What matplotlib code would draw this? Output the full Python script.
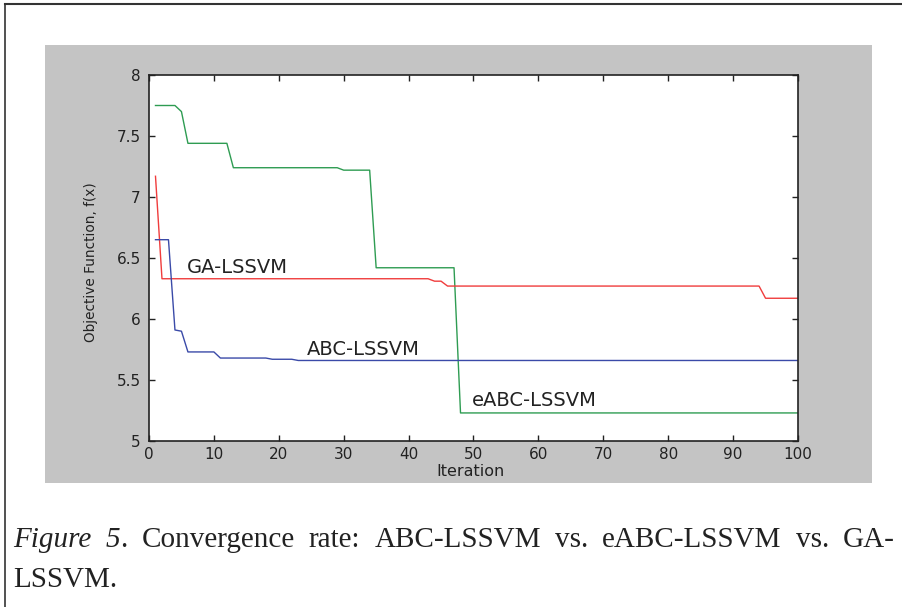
import numpy as np
import matplotlib

matplotlib.use("Agg")
import matplotlib.pyplot as plt
from matplotlib.patches import Rectangle
from matplotlib.lines import Line2D

# vertices (iteration, objective value)
ga_iter = [1, 2, 43, 44, 45, 46, 94, 95, 100]
ga_val = [7.17, 6.33, 6.33, 6.31, 6.31, 6.27, 6.27, 6.17, 6.17]

abc_iter = [1, 3, 4, 5, 6, 10, 11, 18, 19, 22, 23, 100]
abc_val = [6.65, 6.65, 5.91, 5.90, 5.73, 5.73, 5.68, 5.68, 5.67, 5.67, 5.66, 5.66]

eabc_iter = [1, 4, 5, 6, 12, 13, 29, 30, 34, 35, 47, 48, 100]
eabc_val = [7.75, 7.75, 7.70, 7.44, 7.44, 7.24, 7.24, 7.22, 7.22, 6.42, 6.42, 5.23, 5.23]

x_ticks = [0, 10, 20, 30, 40, 50, 60, 70, 80, 90, 100]
y_ticks = [5, 5.5, 6, 6.5, 7, 7.5, 8]
y_ticklabels = ["5", "5.5", "6", "6.5", "7", "7.5", "8"]

caption_line1 = [
    [("Figure", "italic")],
    [("5", "italic"), (".", "normal")],
    [("Convergence", "normal")],
    [("rate:", "normal")],
    [("ABC-LSSVM", "normal")],
    [("vs.", "normal")],
    [("eABC-LSSVM", "normal")],
    [("vs.", "normal")],
    [("GA-", "normal")],
]
caption_line2 = "LSSVM."

W, H = 903, 607
fig = plt.figure(figsize=(W / 100, H / 100), dpi=100)
fig.patch.set_facecolor("white")

# grey matlab-style figure background
bg = Rectangle((45 / W, 1 - 483 / H), 827 / W, 438 / H,
               transform=fig.transFigure, facecolor="#c4c4c4",
               edgecolor="none", zorder=-10)
fig.patches.append(bg)
# page frame (top and left edge)
fig.add_artist(Line2D([5 / W, 1], [1 - 4 / H, 1 - 4 / H], color="#333333", lw=1.5))
fig.add_artist(Line2D([5 / W, 5 / W], [0, 1 - 4 / H], color="#333333", lw=1.2))

ax = fig.add_axes([149 / W, 1 - 441 / H, 649 / W, 366 / H])
ax.set_zorder(1)
ax.set_facecolor("white")

ax.plot(eabc_iter, eabc_val, color="#2e9c52", lw=1.0)
ax.plot(ga_iter, ga_val, color="#f03c3c", lw=1.0)
ax.plot(abc_iter, abc_val, color="#3a4aa8", lw=1.0)

ax.set_xlim(0, 100)
ax.set_ylim(5, 8)
ax.set_xticks(x_ticks)
ax.set_yticks(y_ticks)
ax.set_yticklabels(y_ticklabels)
ax.tick_params(direction="in", length=4, width=1, top=True, right=True,
               labelsize=11, colors="#222222")
ax.tick_params(axis="x", pad=4)
ax.tick_params(axis="y", pad=6)
for lab in ax.get_xticklabels() + ax.get_yticklabels():
    lab.set_fontfamily("DejaVu Sans")
for sp in ax.spines.values():
    sp.set_linewidth(1.2)
    sp.set_color("#222222")

ax.text(5.8, 6.42, "GA-LSSVM", fontsize=14, family="DejaVu Sans",
        color="#222222", va="center", ha="left")
ax.text(24.3, 5.75, "ABC-LSSVM", fontsize=14, family="DejaVu Sans",
        color="#222222", va="center", ha="left")
ax.text(49.7, 5.33, "eABC-LSSVM", fontsize=14, family="DejaVu Sans",
        color="#222222", va="center", ha="left")

fig.text(471 / W, 1 - 471 / H, "Iteration", fontsize=11.5, family="DejaVu Sans",
         color="#222222", ha="center", va="center")
fig.text(91 / W, 1 - 262 / H, "Objective Function, f(x)", fontsize=9.8,
         family="DejaVu Sans", color="#222222", rotation=90,
         ha="center", va="center")

# caption, first line justified between the margins
cap_size = 21
left_px, right_px = 13, 895
base1, base2 = 547, 587
fig.canvas.draw()
renderer = fig.canvas.get_renderer()

word_groups = []
for word in caption_line1:
    pieces = []
    for txt, style in word:
        t = fig.text(0, 1 - base1 / H, txt, fontsize=cap_size,
                     family="Liberation Serif", style=style,
                     color="#222222", va="baseline", ha="left")
        pieces.append(t)
    word_groups.append(pieces)

widths = []
for pieces in word_groups:
    ws = [p.get_window_extent(renderer).width for p in pieces]
    widths.append(ws)
total = sum(sum(ws) for ws in widths)
gap = (right_px - left_px - total) / (len(word_groups) - 1)

x = left_px
for pieces, ws in zip(word_groups, widths):
    for p, w in zip(pieces, ws):
        p.set_x(x / W)
        x += w
    x += gap

fig.text(left_px / W, 1 - base2 / H, caption_line2, fontsize=cap_size,
         family="Liberation Serif", color="#222222", va="baseline", ha="left")

fig.savefig("out.png", dpi=100)
